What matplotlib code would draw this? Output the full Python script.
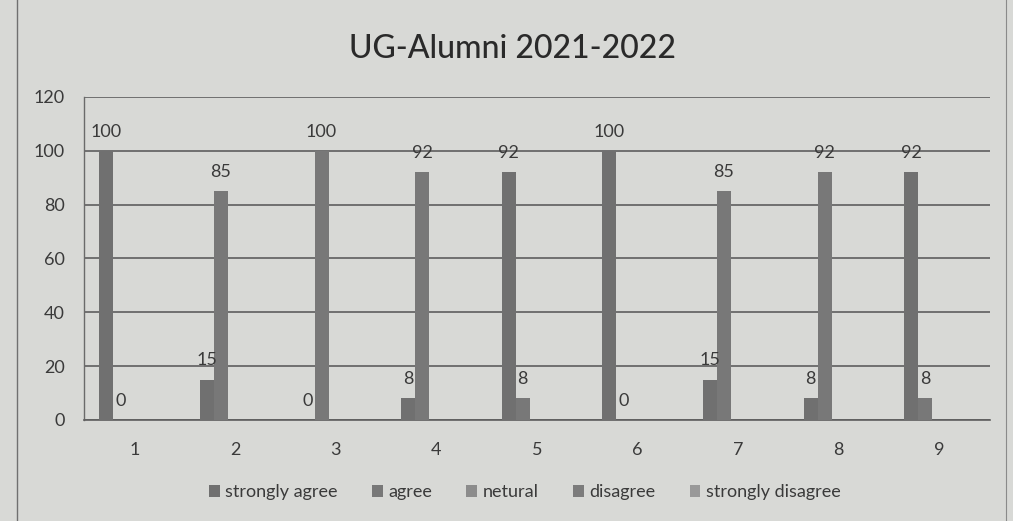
import matplotlib
matplotlib.use("Agg")
import matplotlib.pyplot as plt
import numpy as np
from matplotlib.lines import Line2D

categories = ["1", "2", "3", "4", "5", "6", "7", "8", "9"]
series_names = ["strongly agree", "agree", "netural", "disagree", "strongly disagree"]
strongly_agree = [100, 15, 0, 8, 92, 100, 15, 8, 92]
agree = [0, 85, 100, 92, 8, 0, 85, 92, 8]
netural = [0, 0, 0, 0, 0, 0, 0, 0, 0]
disagree = [0, 0, 0, 0, 0, 0, 0, 0, 0]
strongly_disagree = [0, 0, 0, 0, 0, 0, 0, 0, 0]
series_values = [strongly_agree, agree, netural, disagree, strongly_disagree]
labelled = [True, True, False, False, False]
colors = ["#707070", "#787878", "#8c8c8c", "#7c7c7c", "#999999"]
yticks = [0, 20, 40, 60, 80, 100, 120]

plt.rcParams['font.family'] = ['Lato', 'DejaVu Sans']

bg = "#d8d9d6"
fig = plt.figure(figsize=(10.13, 5.21), dpi=100, facecolor=bg)
ax = fig.add_axes([0.083, 0.194, 0.894, 0.620], facecolor=bg)

x = np.arange(len(categories))
w = 0.14
n = len(series_values)
for i, vals in enumerate(series_values):
    pos = x + (i - (n - 1) / 2) * w
    ax.bar(pos, vals, width=w, color=colors[i], label=series_names[i], zorder=3)
    if labelled[i]:
        for xp, v in zip(pos, vals):
            ax.annotate(str(v), (xp, v), xytext=(0, 8), textcoords="offset points",
                        ha="center", va="bottom", fontsize=13, color="#3a3a3a", zorder=4)

ax.set_xlim(-0.5, len(categories) - 0.5)
ax.set_ylim(0, 120)
ax.set_yticks(yticks)
ax.set_xticks(x)
ax.set_xticklabels(categories)
ax.yaxis.grid(True, color="#5e5e5e", linewidth=1.2, zorder=1)
ax.tick_params(axis="both", length=0, labelsize=13, colors="#3a3a3a")
ax.tick_params(axis="y", pad=14)
ax.tick_params(axis="x", pad=16)
for s in ["top", "right"]:
    ax.spines[s].set_visible(False)
ax.spines["left"].set_color("#6a6a6a")
ax.spines["left"].set_linewidth(1.0)
ax.spines["bottom"].set_color("#5e5e5e")
ax.spines["bottom"].set_linewidth(1.2)

fig.text(0.506, 0.905, "UG-Alumni 2021-2022", ha="center", va="center",
         fontsize=23, color="#2a2a2a", fontweight="medium")

fig.legend(loc="center", bbox_to_anchor=(0.518, 0.055), ncol=5, frameon=False,
           fontsize=13, handlelength=0.6, handleheight=0.6, handletextpad=0.3,
           columnspacing=1.9, labelcolor="#3a3a3a")

# outer chart border
fig.add_artist(Line2D([0.017, 0.017], [0.0, 1.0], color="#707070", linewidth=1.0))
fig.add_artist(Line2D([0.993, 0.993], [0.0, 1.0], color="#8a8a8a", linewidth=0.8))

fig.savefig("out.png", dpi=100, facecolor=bg)
